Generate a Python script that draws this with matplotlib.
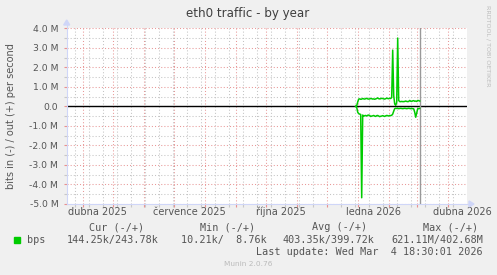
"""eth0 traffic - by year (munin style)"""
import datetime as dt

import numpy as np
import matplotlib
matplotlib.use("Agg")
import matplotlib.pyplot as plt
import matplotlib.dates as mdates
from matplotlib.lines import Line2D
from matplotlib.patches import Polygon, Rectangle

W, H = 497, 275

# daily values from 2025-12-30 to 2026-03-04, in Mbit/s
start_day = dt.datetime(2025, 12, 30)
out_mbps = [0.00, 0.03, 0.22, 0.37, 0.38, 0.36, 0.37, 0.40, 0.38, 0.37,
            0.39, 0.41, 0.38, 0.37, 0.38, 0.40, 0.39, 0.37, 0.38, 0.36,
            0.38, 0.40, 0.43, 0.39, 0.38, 0.39, 0.41, 0.40, 0.38, 0.37,
            0.39, 0.42, 0.40, 0.39, 0.41, 0.40, 0.45, 2.88, 0.55, 0.12,
            0.05, 0.20, 3.50, 0.30, 0.24, 0.24, 0.25, 0.24, 0.24, 0.25,
            0.27, 0.25, 0.24, 0.25, 0.30, 0.26, 0.25, 0.28, 0.29, 0.26,
            0.27, 0.25, 0.30, 0.29, 0.27]
in_mbps = [0.00, 0.05, 0.30, 0.38, 0.40, 0.42, 4.69, 0.45, 0.50, 0.48,
           0.47, 0.50, 0.46, 0.45, 0.47, 0.52, 0.50, 0.49, 0.47, 0.50,
           0.52, 0.48, 0.47, 0.50, 0.53, 0.51, 0.50, 0.48, 0.50, 0.52,
           0.49, 0.47, 0.48, 0.50, 0.47, 0.48, 0.46, 0.40, 0.25, 0.12,
           0.10, 0.11, 0.10, 0.12, 0.11, 0.10, 0.11, 0.12, 0.11, 0.10,
           0.11, 0.12, 0.11, 0.10, 0.11, 0.12, 0.11, 0.12, 0.13, 0.30,
           0.56, 0.35, 0.12, 0.12, 0.11]

month_labels = ["dubna 2025", "července 2025", "října 2025", "ledna 2026", "dubna 2026"]
label_months = [(2025, 4), (2025, 7), (2025, 10), (2026, 1), (2026, 4)]

legend_heads = ["Cur (-/+)", "Min (-/+)", "Avg (-/+)", "Max (-/+)"]
legend_vals = ["144.25k/243.78k", "10.21k/  8.76k", "403.35k/399.72k", "621.11M/402.68M"]

now = dt.datetime(2026, 3, 4, 18, 30, 1)
x_start = dt.datetime(2025, 3, 16)
x_end = x_start + dt.timedelta(days=400)

days = [start_day + dt.timedelta(days=i) for i in range(len(out_mbps))]


def fx(x):
    return x / W


def fy(y):
    return 1 - y / H


fig = plt.figure(figsize=(W / 100, H / 100), dpi=100, facecolor="#F0F0F0")
ax = fig.add_axes([fx(66.7), fy(203.8), 400 / W, 175.5 / H])
ax.set_facecolor("white")
for s in ax.spines.values():
    s.set_visible(False)

ax.set_xlim(mdates.date2num(x_start), mdates.date2num(x_end))
ax.set_ylim(-5, 4)

# grid: months (red) and two-week steps (gray), 1M / 0.5M on y
months = []
y_, m_ = 2025, 4
while dt.datetime(y_, m_, 1) < x_end:
    months.append(dt.datetime(y_, m_, 1))
    m_ += 1
    if m_ > 12:
        m_, y_ = 1, y_ + 1
weeks = []
d = dt.datetime(2025, 3, 24)
while d < x_end:
    weeks.append(d)
    d += dt.timedelta(days=14)

ax.set_xticks(mdates.date2num(months))
ax.set_xticks(mdates.date2num(weeks), minor=True)
ax.set_xticklabels([])
ax.set_yticks(np.arange(-5, 4.1, 1))
ax.set_yticks(np.arange(-4.5, 4, 1), minor=True)


def ylab(v):
    if abs(v) < 1e-9:
        return "0.0"
    return "%.1f M" % v


ax.set_yticklabels([ylab(v) for v in np.arange(-5, 4.1, 1)])
ax.tick_params(which="major", length=2, width=0.8, color="#E89090",
               labelsize=6.7, labelcolor="#555555", pad=4)
ax.tick_params(which="minor", length=2, width=0.8, color="#C8C8C8")
ax.grid(which="minor", color="#C4C4C4", linestyle=(0, (1, 2)), lw=0.75)
ax.grid(which="major", color="#E89898", linestyle=(0, (1, 2)), lw=0.75)
ax.set_axisbelow(True)

for (yy, mm), lab in zip(label_months, month_labels):
    a = dt.datetime(yy, mm, 1)
    b = dt.datetime(yy + (mm == 12), mm % 12 + 1, 1)
    mid = mdates.date2num(a) + (mdates.date2num(b) - mdates.date2num(a)) / 2
    ax.text(mid, -0.048, lab, transform=ax.get_xaxis_transform(),
            ha="center", va="center", fontsize=7, color="#555555")

ax.axhline(0, color="black", lw=1.0, zorder=3)
ax.axvline(mdates.date2num(now), color="#999999", lw=1.0, zorder=3)

xd = mdates.date2num(days)
ax.plot(xd, out_mbps, color="#00CC00", lw=1.1, zorder=4)
ax.plot(xd, -np.array(in_mbps), color="#00CC00", lw=1.1, zorder=4)

# axis lines with arrows
axc = "#CFD6F8"
fig.add_artist(Line2D([fx(66.7), fx(470)], [fy(204), fy(204)], color=axc, lw=0.8))
fig.add_artist(Line2D([fx(66.7), fx(66.7)], [fy(204), fy(24)], color=axc, lw=0.8))
fig.add_artist(Polygon([(fx(469), fy(201)), (fx(474), fy(204)), (fx(469), fy(207))],
                       closed=True, color=axc, transform=fig.transFigure))
fig.add_artist(Polygon([(fx(63.7), fy(25)), (fx(66.7), fy(20)), (fx(69.7), fy(25))],
                       closed=True, color=axc, transform=fig.transFigure))

fig.text(fx(248), fy(13), "eth0 traffic - by year", ha="center", va="center",
         fontsize=8.6, color="#3F3F3F")
fig.text(fx(11), fy(116), "bits in (-) / out (+) per second", rotation=90,
         ha="center", va="center", fontsize=7, color="#555555")
fig.text(fx(487.7), fy(5), "RRDTOOL / TOBI OETIKER", rotation=270, ha="center",
         va="top", fontsize=4.6, color="#BDBDBD")

# legend
mono = dict(family="DejaVu Sans Mono", fontsize=7.25, color="#555555", va="center")
for x, t in zip([89, 200, 311.7, 422.7], legend_heads):
    fig.text(fx(x), fy(227.3), t, ha="left", **mono)
fig.add_artist(Rectangle((fx(14), fy(243)), 6 / W, 6 / H, color="#00CC00",
                         transform=fig.transFigure))
fig.text(fx(26.7), fy(239.7), "bps", ha="left", **mono)
for x, t in zip([66.7, 181, 282.7, 391], legend_vals):
    fig.text(fx(x), fy(239.7), t, ha="left", **mono)
fig.text(fx(482.7), fy(251.7), "Last update: Wed Mar  4 18:30:01 2026", ha="right", **mono)
fig.text(fx(248), fy(264), "Munin 2.0.76", ha="center", va="center",
         fontsize=5.3, color="#BBBBBB")

fig.savefig("out.png", dpi=100, facecolor=fig.get_facecolor())
